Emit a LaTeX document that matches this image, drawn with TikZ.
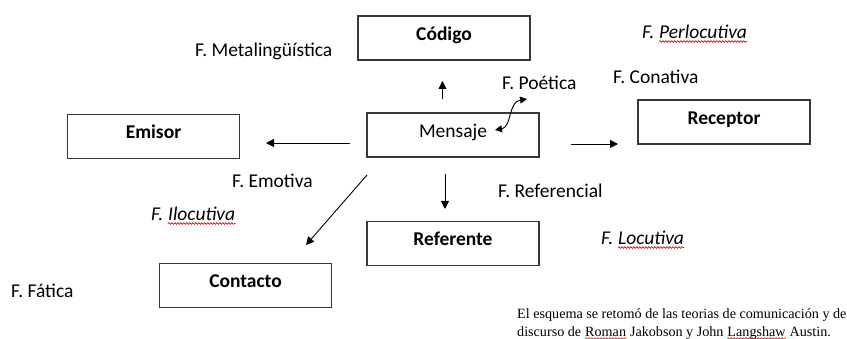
\documentclass[tikz,border=0pt]{standalone}
\usepackage{fontspec}
\setmainfont{Carlito}
\newfontfamily\serifnote{Liberation Serif}
\usetikzlibrary{arrows.meta,decorations.pathmorphing}
\begin{document}
\begin{tikzpicture}[x=1pt,y=-1pt,
 box/.style={draw=black!78,line width=1.3pt,minimum width=172pt,minimum height=44pt,inner sep=0pt,text height=12.5pt,text depth=8pt,font=\fontsize{19.5}{23}\selectfont\bfseries},
 lbl/.style={anchor=base west,inner sep=0pt,font=\fontsize{19.5}{23}\selectfont},
 ilbl/.style={lbl,font=\fontsize{19.5}{23}\selectfont\itshape},
 arr/.style={line width=0.9pt,-{Triangle[length=8pt,width=8pt]}},
 squig/.style={draw=red!85!black,line width=0.6pt,decorate,decoration={snake,amplitude=0.9pt,segment length=3pt}},
 note/.style={anchor=base west,inner sep=0pt,font=\serifnote\fontsize{14.15}{17}\selectfont}
]
\useasboundingbox (0,0) rectangle (847,339);

% boxes
\node[box] (codigo) at (444,38) {Código};
\node[box] (receptor) at (724,122) {Receptor};
\node[box] (emisor) at (153.5,136.5) {Emisor};
\node[box,font=\fontsize{19.5}{23}\selectfont] (mensaje) at (453,135) {Mensaje};
\node[box] (contacto) at (245.5,285.5) {Contacto};
\node[box] (referente) at (453,243.5) {Referente};

% arrow end points
\coordinate (upS) at (442.5,99);  \coordinate (upE) at (442.5,81);
\coordinate (leftS) at (350,143); \coordinate (leftE) at (266,143);
\coordinate (rightS) at (571,144); \coordinate (rightE) at (618,144);
\coordinate (downS) at (445,174); \coordinate (downE) at (445,209);
\coordinate (diagS) at (367,175); \coordinate (diagE) at (306,245);
\coordinate (poA) at (495,130); \coordinate (poB) at (527,99);

\draw[arr] (upS) -- (upE);
\draw[arr] (leftS) -- (leftE);
\draw[arr] (rightS) -- (rightE);
\draw[arr] (downS) -- (downE);
\draw[arr] (diagS) -- (diagE);
\draw[line width=0.9pt,{Triangle[length=7pt,width=7pt]}-{Triangle[length=7pt,width=7pt]}]
  (poA) .. controls (512,127) and (508,102) .. (poB);

% labels
\node[lbl] (fmeta) at (195,57) {F. Metalingüística};
\node[ilbl] (fperl) at (642,39) {F.\ \mbox{}};
\node[ilbl] (fperlw) at (fperl.base east) {Perlocutiva};
\node[lbl] (fcona) at (613,84) {F. Conativa};
\node[lbl] (fpoet) at (502,90) {F. Poética};
\node[lbl] (femot) at (232,188) {F. Emotiva};
\node[ilbl] (filoc) at (151,221) {F.\ \mbox{}};
\node[ilbl] (filocw) at (filoc.base east) {Ilocutiva};
\node[lbl] (ffat) at (11,298) {F. Fática};
\node[lbl] (fref) at (498,198) {F. Referencial};
\node[ilbl] (floc) at (601,245) {F.\ \mbox{}};
\node[ilbl] (flocw) at (floc.base east) {Locutiva};

\draw[squig] ([yshift=-2.5pt]fperlw.base west) -- ([yshift=-2.5pt]fperlw.base east);
\draw[squig] ([yshift=-2.5pt]filocw.base west) -- ([yshift=-2.5pt]filocw.base east);
\draw[squig] ([yshift=-2.5pt]flocw.base west) -- ([yshift=-2.5pt]flocw.base east);

% footnote
\node[note] (n1) at (517,319) {El esquema se retomó de las teorias de comunicación y de};
\node[note] (n2a) at (517,337) {discurso de\ \mbox{}};
\node[note] (n2b) at (n2a.base east) {Roman};
\node[note] (n2c) at (n2b.base east) {\ Jakobson y John\ \mbox{}};
\node[note] (n2d) at (n2c.base east) {Langshaw};
\node[note] (n2e) at (n2d.base east) {\ Austin.};
\draw[squig,line width=0.5pt] ([yshift=-1.5pt]n2b.base west) -- ([yshift=-1.5pt]n2b.base east);
\draw[squig,line width=0.5pt] ([yshift=-1.5pt]n2d.base west) -- ([yshift=-1.5pt]n2d.base east);
\end{tikzpicture}
\end{document}
